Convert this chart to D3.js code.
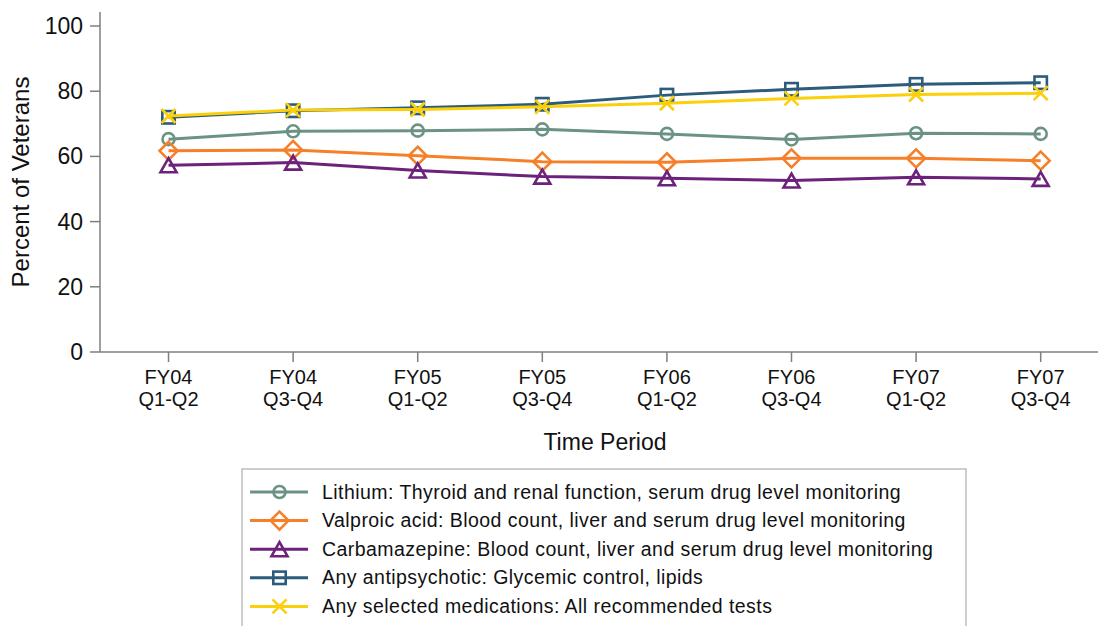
<!DOCTYPE html>
<html>
<head>
<meta charset="utf-8">
<script src="https://cdn.jsdelivr.net/npm/d3@7"></script>
<style>
  html, body { margin: 0; padding: 0; background: #ffffff; }
  svg { display: block; font-family: "Liberation Sans", Arial, sans-serif; }
</style>
</head>
<body>
<svg id="chart" width="1098" height="626"></svg>
<script>
// ---- data ----
const periodsTop = ["FY04", "FY04", "FY05", "FY05", "FY06", "FY06", "FY07", "FY07"];
const periodsBottom = ["Q1-Q2", "Q3-Q4", "Q1-Q2", "Q3-Q4", "Q1-Q2", "Q3-Q4", "Q1-Q2", "Q3-Q4"];
const yTicks = [0, 20, 40, 60, 80, 100];

const lithium = [65.3, 67.7, 67.9, 68.3, 66.9, 65.2, 67.1, 66.9];
const valproic = [61.7, 62.0, 60.2, 58.4, 58.2, 59.4, 59.4, 58.7];
const carbamazepine = [57.3, 58.1, 55.7, 53.8, 53.3, 52.6, 53.6, 53.1];
const antipsychotic = [72.0, 74.0, 74.9, 76.0, 78.8, 80.6, 82.1, 82.6];
const anySelected = [72.4, 74.2, 74.4, 75.2, 76.3, 77.8, 79.0, 79.4];

const seriesNames = [
  "Lithium: Thyroid and renal function, serum drug level monitoring",
  "Valproic acid: Blood count, liver and serum drug level monitoring",
  "Carbamazepine: Blood count, liver and serum drug level monitoring",
  "Any antipsychotic: Glycemic control, lipids",
  "Any selected medications: All recommended tests"
];
const seriesValues = [lithium, valproic, carbamazepine, antipsychotic, anySelected];
const seriesColors = ["#6b9383", "#f6802a", "#6c217a", "#2b5c7b", "#fbcf0a"];
const seriesMarkers = ["circle", "diamond", "triangle", "square", "x"];

// ---- layout ----
const svg = d3.select("#chart");
const axisColor = "#7f7f7f";

const x = d3.scaleLinear().domain([-0.55, 7.46]).range([100, 1098]);
const y = d3.scaleLinear().domain([0, 104.3]).range([352, 12]);

// y axis
const yAxisG = svg.append("g").attr("transform", `translate(${x(-0.55)},0)`);
yAxisG.append("line")
  .attr("x1", 0).attr("x2", 0)
  .attr("y1", y(0)).attr("y2", y(104.3))
  .attr("stroke", axisColor).attr("stroke-width", 1.5);
yAxisG.selectAll("g.tick").data(yTicks).enter().append("g")
  .attr("class", "tick")
  .attr("transform", d => `translate(0,${y(d)})`)
  .each(function(d) {
    const g = d3.select(this);
    g.append("line").attr("x1", -10).attr("x2", 0)
      .attr("stroke", axisColor).attr("stroke-width", 1.5);
    g.append("text").attr("x", -17).attr("dy", "0.35em")
      .attr("text-anchor", "end").attr("font-size", 23).attr("fill", "#111")
      .text(d);
  });

// x axis
const xAxisG = svg.append("g").attr("transform", `translate(0,${y(0)})`);
xAxisG.append("line")
  .attr("x1", x(-0.55)).attr("x2", x(7.46))
  .attr("y1", 0).attr("y2", 0)
  .attr("stroke", axisColor).attr("stroke-width", 1.5);
xAxisG.selectAll("g.tick").data(d3.range(periodsTop.length)).enter().append("g")
  .attr("class", "tick")
  .attr("transform", d => `translate(${x(d)},0)`)
  .each(function(d) {
    const g = d3.select(this);
    g.append("line").attr("y1", 0).attr("y2", 10)
      .attr("stroke", axisColor).attr("stroke-width", 1.5);
    const t = g.append("text").attr("text-anchor", "middle")
      .attr("font-size", 20).attr("fill", "#111");
    t.append("tspan").attr("x", 0).attr("y", 31.5).text(periodsTop[d]);
    t.append("tspan").attr("x", 0).attr("y", 53.5).text(periodsBottom[d]);
  });

// axis titles
svg.append("text")
  .attr("transform", `translate(28.5,${(y(0) + y(104.3)) / 2}) rotate(-90)`)
  .attr("text-anchor", "middle").attr("font-size", 24).attr("fill", "#111")
  .text("Percent of Veterans");
svg.append("text")
  .attr("x", 605).attr("y", 450)
  .attr("text-anchor", "middle").attr("font-size", 23).attr("fill", "#111")
  .text("Time Period");

// markers
function drawMarker(g, type, cx, cy, color) {
  const sw = 2.6;
  if (type === "circle") {
    g.append("circle").attr("cx", cx).attr("cy", cy).attr("r", 6)
      .attr("fill", "none").attr("stroke", color).attr("stroke-width", sw);
  } else if (type === "diamond") {
    const r = 9;
    g.append("path")
      .attr("d", `M${cx},${cy - r}L${cx + r},${cy}L${cx},${cy + r}L${cx - r},${cy}Z`)
      .attr("fill", "none").attr("stroke", color).attr("stroke-width", sw)
      .attr("stroke-linejoin", "miter");
  } else if (type === "triangle") {
    const w = 8, h = 7;
    g.append("path")
      .attr("d", `M${cx},${cy - h}L${cx + w},${cy + h}L${cx - w},${cy + h}Z`)
      .attr("fill", "none").attr("stroke", color).attr("stroke-width", sw);
  } else if (type === "square") {
    const s = 6.2;
    g.append("rect").attr("x", cx - s).attr("y", cy - s)
      .attr("width", 2 * s).attr("height", 2 * s)
      .attr("fill", "none").attr("stroke", color).attr("stroke-width", sw);
  } else if (type === "x") {
    const s = 7;
    g.append("path")
      .attr("d", `M${cx - s},${cy - s}L${cx + s},${cy + s}M${cx - s},${cy + s}L${cx + s},${cy - s}`)
      .attr("fill", "none").attr("stroke", color).attr("stroke-width", sw);
  }
}

// series lines
const line = d3.line().x((d, i) => x(i)).y(d => y(d));
seriesValues.forEach((vals, k) => {
  const g = svg.append("g");
  g.append("path").datum(vals).attr("d", line)
    .attr("fill", "none").attr("stroke", seriesColors[k]).attr("stroke-width", 3);
  vals.forEach((v, i) => drawMarker(g, seriesMarkers[k], x(i), y(v), seriesColors[k]));
});

// legend
const legend = svg.append("g");
legend.append("rect")
  .attr("x", 242).attr("y", 469).attr("width", 724).attr("height", 200)
  .attr("fill", "#fff").attr("stroke", "#bdbdbd").attr("stroke-width", 1.5);
seriesNames.forEach((name, k) => {
  const base = 498.5 + k * 28.6;
  const cy = base - 6.5;
  const g = legend.append("g");
  g.append("line").attr("x1", 250).attr("x2", 308).attr("y1", cy).attr("y2", cy)
    .attr("stroke", seriesColors[k]).attr("stroke-width", 3);
  drawMarker(g, seriesMarkers[k], 279.5, cy, seriesColors[k]);
  g.append("text").attr("x", 322).attr("y", base)
    .attr("font-size", 19.5).attr("letter-spacing", "0.45px")
    .attr("fill", "#111").text(name);
});
</script>
</body>
</html>
